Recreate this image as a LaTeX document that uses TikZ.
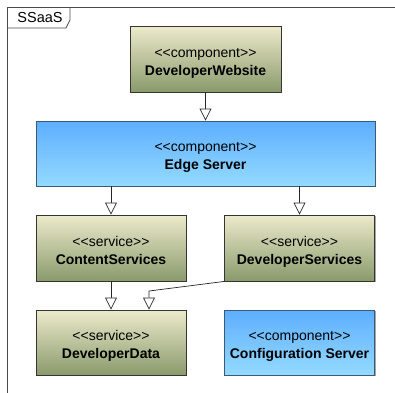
\documentclass[tikz,border=0pt]{standalone}
\usepackage{fontspec}
\newfontfamily\umlfont{Liberation Sans}
\usetikzlibrary{arrows.meta,shadows,calc}
\definecolor{gtop}{HTML}{ECEACB}
\definecolor{gbot}{HTML}{8A9A6C}
\definecolor{btop}{HTML}{5EAEFF}
\definecolor{bbot}{HTML}{94DAFF}
\definecolor{gborder}{HTML}{353535}
\definecolor{bborder}{HTML}{3A5A78}
\definecolor{frame}{HTML}{4A4A4A}
\newcommand\umltwo[2]{\raisebox{0pt}[\dimexpr\height+7pt\relax][\depth]{\begin{tabular}{@{}c@{}}#1\\\bfseries #2\end{tabular}}}
\tikzset{
  box/.style={rectangle, minimum width=150pt, minimum height=65pt, inner sep=0pt,
    align=center, font=\umlfont\fontsize{14}{18}\selectfont, line width=0.9pt,
    drop shadow={shadow xshift=1.2pt, shadow yshift=-1.2pt, fill=black!35, opacity=1}},
  greenbox/.style={box, draw=gborder, top color=gtop, bottom color=gbot},
  bluebox/.style={box, draw=bborder, top color=btop, bottom color=bbot},
  dep/.style={draw=black!85, line width=0.7pt, -{Triangle[open, length=12pt, width=12pt, fill=white]}}
}
\begin{document}
\begin{tikzpicture}[x=1pt, y=-1pt]
\clip (0,0) rectangle (395,392);
\fill[white] (0,0) rectangle (395,392);
% frame
\draw[frame, line width=0.8pt] (7,400) -- (7,7) -- (400,7);
\draw[frame, line width=0.8pt] (7,28) -- (66,28) -- (70,20) -- (70,7);
\node[font=\umlfont\fontsize{14.5}{16}\selectfont, inner sep=0pt] (tab) at (40,17.5) {SSaaS};
% boxes
\node[greenbox, minimum width=151pt, minimum height=66pt] (dw) at (205.5,59) {\umltwo{<<component>>}{DeveloperWebsite}};
\node[bluebox, minimum width=339pt, minimum height=65pt] (es) at (205.5,153.5) {\umltwo{<<component>>}{Edge Server}};
\node[greenbox, minimum height=66pt] (cs) at (111,248) {\umltwo{<<service>>}{ContentServices}};
\node[greenbox, minimum height=66pt] (ds) at (299.5,248) {\umltwo{<<service>>}{DeveloperServices}};
\node[greenbox] (dd) at (111,342.5) {\umltwo{<<service>>}{DeveloperData}};
\node[bluebox] (cfg) at (299.5,342.5) {\umltwo{<<component>>}{Configuration Server}};
% connectors
\draw[dep] (dw.south) -- (es.north);
\draw[dep] (es.south -| cs.north) -- (cs.north);
\draw[dep] (es.south -| ds.north) -- (ds.north);
\draw[dep] (cs.south) -- (dd.north);
\coordinate (bend) at (149,291);
\draw[dep] (ds.south west) -- (bend) -- (bend |- dd.north);
\end{tikzpicture}
\end{document}
